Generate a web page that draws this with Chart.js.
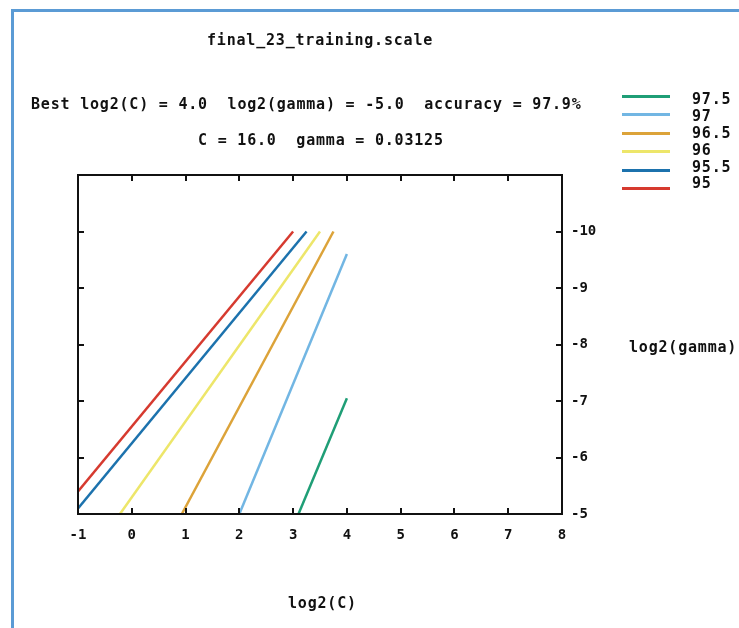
<!DOCTYPE html>
<html>
<head>
<meta charset="utf-8">
<script src="https://cdn.jsdelivr.net/npm/chart.js@4/dist/chart.umd.min.js"></script>
<style>
    body { margin: 0; background: #fff; }
    #wrap { position: relative; width: 739px; height: 628px; overflow: hidden; }
    #frame { position: absolute; left: 11px; top: 9px; width: 800px; height: 700px;
             border-left: 3px solid #5b9bd5; border-top: 3px solid #5b9bd5; }
    canvas { position: absolute; left: 0; top: 0; }
    .txt { position: absolute; font: bold 15px "DejaVu Sans Mono", monospace; letter-spacing: 0.8px;
           color: #111; white-space: pre; line-height: 16px; }
    .key { position: absolute; height: 3px; width: 48px; left: 622px; }
</style>
</head>
<body>
<div id="wrap">
    <div id="frame"></div>
    <canvas id="contour" width="739" height="628"></canvas>
    <div class="txt" style="left:207px; top:32px;">final_23_training.scale</div>
    <div class="txt" style="left:31px; top:96px;">Best log2(C) = 4.0  log2(gamma) = -5.0  accuracy = 97.9%</div>
    <div class="txt" style="left:198px; top:132px;">C = 16.0  gamma = 0.03125</div>
    <div class="txt" style="left:288px; top:595px;">log2(C)</div>
    <div class="txt" style="left:629px; top:339px;">log2(gamma)</div>
    <div id="legend"></div>
</div>
<script>
// contour levels (accuracy %) and their colours
const levels = ["97.5", "97", "96.5", "96", "95.5", "95"];
const levelColors = ["#1f9e76", "#72b6e3", "#dca339", "#ede66a", "#1c72ad", "#d63a2f"];

// end points of each contour line, log2(C) and log2(gamma)
const contourC = [
    [3.1, 4.0],
    [2.0, 4.0],
    [0.93, 3.75],
    [-0.22, 3.5],
    [-1.0, 3.25],
    [-1.0, 3.0],
];
const contourGamma = [
    [-5.0, -7.05],
    [-5.0, -9.6],
    [-5.0, -10.0],
    [-5.0, -10.0],
    [-5.1, -10.0],
    [-5.4, -10.0],
];

const xTicks = [-1, 0, 1, 2, 3, 4, 5, 6, 7, 8];
const yTicks = [-11, -10, -9, -8, -7, -6, -5];

// legend (html)
const legendEl = document.getElementById("legend");
const keyLineY = [95, 113, 132, 150, 169, 187];
const keyTextY = [91, 108, 125, 142, 159, 175];
levels.forEach((lv, i) => {
    const line = document.createElement("div");
    line.className = "key";
    line.style.top = keyLineY[i] + "px";
    line.style.background = levelColors[i];
    legendEl.appendChild(line);
    const lab = document.createElement("div");
    lab.className = "txt";
    lab.style.left = "692px";
    lab.style.top = keyTextY[i] + "px";
    lab.textContent = lv;
    legendEl.appendChild(lab);
});

const datasets = levels.map((lv, i) => ({
    label: lv,
    data: contourC[i].map((c, j) => ({ x: c, y: contourGamma[i][j] })),
    borderColor: levelColors[i],
    borderWidth: 2.5,
    pointRadius: 0,
    showLine: true,
    fill: false,
}));

// gnuplot style frame with inward ticks
const framePlugin = {
    id: "frame",
    afterDraw(chart) {
        const { ctx, chartArea: a, scales } = chart;
        ctx.save();
        ctx.strokeStyle = "#111";
        ctx.lineWidth = 2;
        ctx.strokeRect(a.left, a.top, a.right - a.left, a.bottom - a.top);
        const len = 6;
        ctx.beginPath();
        xTicks.slice(1, -1).forEach((v) => {
            const px = Math.round(scales.x.getPixelForValue(v));
            ctx.moveTo(px, a.bottom); ctx.lineTo(px, a.bottom - len);
            ctx.moveTo(px, a.top); ctx.lineTo(px, a.top + len);
        });
        yTicks.slice(1, -1).forEach((v) => {
            const py = Math.round(scales.y.getPixelForValue(v));
            ctx.moveTo(a.left, py); ctx.lineTo(a.left + len, py);
            ctx.moveTo(a.right, py); ctx.lineTo(a.right - len, py);
        });
        ctx.stroke();
        ctx.restore();
    },
};

const tickFont = { family: "DejaVu Sans Mono", size: 14, weight: "bold" };

new Chart(document.getElementById("contour"), {
    type: "scatter",
    data: { datasets },
    options: {
        responsive: false,
        animation: false,
        devicePixelRatio: 1,
        layout: { padding: { left: 78, top: 175, right: 0, bottom: 0 } },
        plugins: { legend: { display: false }, tooltip: { enabled: false } },
        scales: {
            x: {
                type: "linear",
                min: -1,
                max: 8,
                afterBuildTicks: (s) => { s.ticks = xTicks.map((v) => ({ value: v })); },
                afterFit: (s) => { s.height = 114; },
                grid: { display: false, drawTicks: false },
                border: { display: false },
                ticks: { font: tickFont, color: "#111", padding: 13, maxRotation: 0 },
            },
            y: {
                type: "linear",
                position: "right",
                reverse: true,
                min: -11,
                max: -5,
                afterBuildTicks: (s) => { s.ticks = yTicks.map((v) => ({ value: v })); },
                afterFit: (s) => { s.width = 177; },
                grid: { display: false, drawTicks: false },
                border: { display: false },
                ticks: {
                    font: tickFont,
                    color: "#111",
                    padding: 9,
                    callback: (v) => (v === -11 ? "" : String(v)),
                },
            },
        },
    },
    plugins: [framePlugin],
});
</script>
</body>
</html>
